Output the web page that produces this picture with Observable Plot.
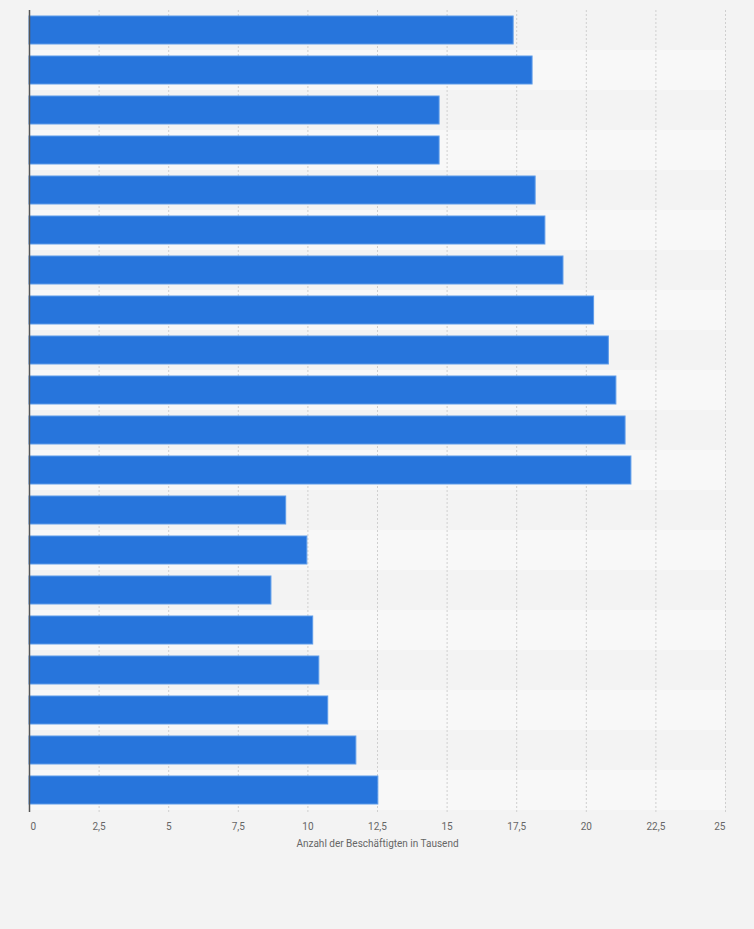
<!DOCTYPE html>
<html>
<head>
<meta charset="utf-8">
<script src="https://cdn.jsdelivr.net/npm/d3@7"></script>
<script src="https://cdn.jsdelivr.net/npm/@observablehq/plot@0.6"></script>
<style>
  html, body { margin: 0; padding: 0; background: #f3f3f3; }
  #chart { width: 754px; height: 929px; background: #f3f3f3; }
</style>
</head>
<body>
<div id="chart"></div>
<script>
// Categories (unlabelled in the reference; kept as row identifiers)
const categories = ["1","2","3","4","5","6","7","8","9","10","11","12","13","14","15","16","17","18","19","20"];
// Values: Anzahl der Beschäftigten in Tausend
const values = [17.39, 18.07, 14.73, 14.73, 18.18, 18.53, 19.18, 20.28, 20.81, 21.08, 21.41, 21.62, 9.22, 9.98, 8.69, 10.19, 10.41, 10.73, 11.74, 12.53];
const xTicks = [0, 2.5, 5, 7.5, 10, 12.5, 15, 17.5, 20, 22.5, 25];
const xLabel = "Anzahl der Beschäftigten in Tausend";

const data = categories.map((c, i) => ({category: c, value: values[i], index: i}));
const fmt = d => String(d).replace(".", ",");
const font = "Roboto, 'Liberation Sans', Arial, sans-serif";

const chart = Plot.plot({
  width: 754,
  height: 870,
  marginTop: 10,
  marginBottom: 60,
  marginLeft: 29,
  marginRight: 29,
  style: {background: "#f3f3f3", fontFamily: font},
  x: {domain: [0, 25], ticks: xTicks, axis: null},
  y: {domain: categories, paddingInner: 0.3, paddingOuter: 0.15, axis: null},
  marks: [
    Plot.barX(data, {
      y: "category", x1: 0, x2: 25,
      fill: d => d.index % 2 === 0 ? "#f3f3f3" : "#f8f8f8",
      insetTop: -6, insetBottom: -6
    }),
    Plot.gridX(xTicks.filter(t => t > 0), {stroke: "#cfcfcf", strokeOpacity: 1, strokeDasharray: "2,2", insetBottom: -2}),
    Plot.barX(data, {y: "category", x: "value", fill: "#2775dc", stroke: "#5d9be9", strokeWidth: 1}),
    Plot.ruleX([0], {stroke: "#555", strokeWidth: 1.5, insetBottom: -2}),
    Plot.axisX(xTicks.filter(t => t > 0 && t < 25), {tickSize: 0, tickPadding: 12, tickFormat: fmt, fontSize: 10, fill: "#666", label: null}),
    Plot.axisX([0], {tickSize: 0, tickPadding: 12, tickFormat: fmt, fontSize: 10, fill: "#666", textAnchor: "start", dx: 1, label: null}),
    Plot.axisX([25], {tickSize: 0, tickPadding: 12, tickFormat: fmt, fontSize: 10, fill: "#666", textAnchor: "end", dx: 0, label: null}),
    Plot.text([xLabel], {frameAnchor: "bottom", dy: 36, fontSize: 10, fill: "#666", fontFamily: font})
  ]
});
document.getElementById("chart").appendChild(chart);
</script>
</body>
</html>
